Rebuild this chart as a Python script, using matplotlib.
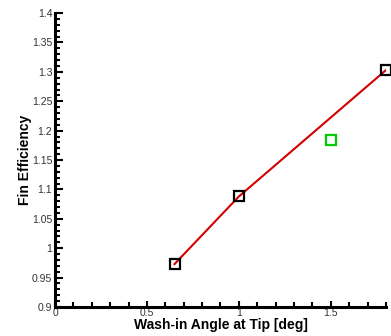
import numpy as np
import matplotlib
matplotlib.use('Agg')
import matplotlib.pyplot as plt
from matplotlib.ticker import MultipleLocator, FormatStrFormatter

# wash-in angle sweep (deg) and resulting fin efficiency
washin = [0.65, 1.0, 1.8]
efficiency = [0.973, 1.088, 1.303]

# single off-line case
extra_washin = [1.5]
extra_efficiency = [1.184]

plt.rcParams['font.family'] = ['Liberation Sans', 'DejaVu Sans']

fig = plt.figure(figsize=(3.91, 3.36), dpi=100)
ax = fig.add_axes([0.1407, 0.0863, 0.8463, 0.8747])

ax.plot(washin, efficiency, color='#d40000', lw=1.5, zorder=2)
ax.plot(washin, efficiency, ls='none', marker='s', ms=6.5, mfc='none',
        mec='black', mew=1.6, zorder=3, clip_on=False)
ax.plot(extra_washin, extra_efficiency, ls='none', marker='s', ms=6.5,
        mfc='none', mec='#00cc00', mew=1.6, zorder=3)

ax.set_xlim(0, 1.8)
ax.set_ylim(0.9, 1.4)

ax.spines['top'].set_visible(False)
ax.spines['right'].set_visible(False)
for s in ('left', 'bottom'):
    ax.spines[s].set_linewidth(2.2)

ax.xaxis.set_major_locator(MultipleLocator(0.5))
ax.xaxis.set_minor_locator(MultipleLocator(0.1))
ax.yaxis.set_major_locator(MultipleLocator(0.05))
ax.yaxis.set_minor_locator(MultipleLocator(0.01))
ax.xaxis.set_major_formatter(FormatStrFormatter('%g'))
ax.yaxis.set_major_formatter(FormatStrFormatter('%g'))

ax.tick_params(which='both', direction='in', top=False, right=False,
               labelsize=7.5, labelcolor='#333333', width=1.5)
ax.tick_params(axis='y', which='major', length=6, pad=2)
ax.tick_params(axis='y', which='minor', length=3.5)
ax.tick_params(axis='x', which='major', length=4.5, pad=1)
ax.tick_params(axis='x', which='minor', length=3.5)

ax.set_xlabel('Wash-in Angle at Tip [deg]', fontsize=10, fontweight='bold',
              labelpad=0)
ax.set_ylabel('Fin Efficiency', fontsize=10, fontweight='bold', labelpad=0)

fig.savefig('out.png', dpi=100)
